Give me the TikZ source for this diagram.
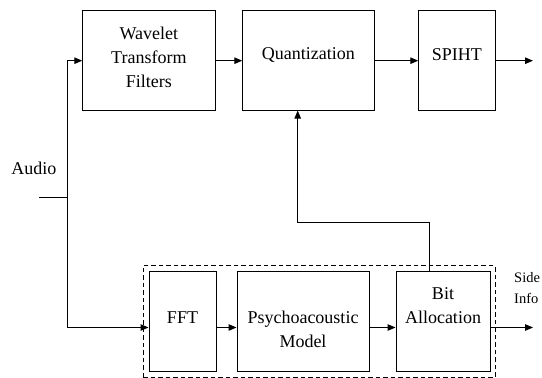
\documentclass[tikz,border=0pt]{standalone}
\usepackage{fontspec}
\setmainfont{Liberation Serif}
\usetikzlibrary{arrows.meta}

\begin{document}
\begin{tikzpicture}[x=1pt,y=-1pt,
  blk/.style={draw,line width=1pt,rectangle,inner sep=0pt,anchor=center},
  txt/.style={align=center,inner sep=0pt,font=\fontsize{18}{24}\selectfont},
  arr/.style={line width=1pt,-{Triangle[length=8pt,width=6.5pt]}},
  wire/.style={line width=1pt},
  grp/.style={draw,line width=1pt,dash pattern=on 4.5pt off 3pt}]
  \useasboundingbox (0,0) rectangle (542,378);

  % upper chain
  \node[blk,minimum width=132.3pt,minimum height=99.3pt] (wav) at (148.9,60.4) {};
  \node[blk,minimum width=131.3pt,minimum height=99.3pt] (quant) at (308.4,60.4) {};
  \node[blk,minimum width=76.3pt,minimum height=99.3pt] (spiht) at (456.9,60.4) {};
  \node[txt] (wavt) at (148.9,57) {Wavelet\\Transform\\Filters};
  \node[txt] (quantt) at (308.4,55) {Quantization};
  \node[txt] (spihtt) at (456.9,55) {SPIHT};

  % psychoacoustic side chain
  \node[grp,rectangle,inner sep=0pt,minimum width=352pt,minimum height=111.3pt] (group) at (319,321.4) {};
  \node[blk,minimum width=67pt,minimum height=99.3pt] (fft) at (182.5,321.4) {};
  \node[blk,minimum width=132pt,minimum height=99.3pt] (psy) at (303,321.4) {};
  \node[blk,minimum width=94pt,minimum height=99.3pt] (bit) at (443,321.4) {};
  \node[txt] (fftt) at (182.5,318) {FFT};
  \node[txt] (psyt) at (303,329.5) {Psychoacoustic\\Model};
  \node[txt] (bitt) at (443,306) {Bit\\Allocation};

  % labels
  \node[txt] (audio) at (34,168) {Audio};
  \node[align=left,inner sep=0pt,anchor=west,font=\fontsize{14.5}{21}\selectfont] (side) at (514,288) {Side\\Info};

  % signal rows
  \coordinate (rowA) at (0,60.7);
  \coordinate (rowB) at (0,327.5);
  \coordinate (ain) at (39,197);
  \coordinate (split) at (67,197);
  \coordinate (outA) at (533,60.7);
  \coordinate (outB) at (533,327.5);
  \coordinate (fbR) at (429.3,222.7);
  \coordinate (fbL) at (297.7,222.7);

  \draw[wire] (ain) -- (split);
  \draw[arr] (split) |- (wav.west |- rowA);
  \draw[arr] (split) |- (fft.west |- rowB);
  \draw[arr] (wav.east |- rowA) -- (quant.west |- rowA);
  \draw[arr] (quant.east |- rowA) -- (spiht.west |- rowA);
  \draw[arr] (spiht.east |- rowA) -- (outA);
  \draw[arr] (fft.east |- rowB) -- (psy.west |- rowB);
  \draw[arr] (psy.east |- rowB) -- (bit.west |- rowB);
  \draw[arr] (bit.east |- rowB) -- (outB);
  \draw[arr] (bit.north -| fbR) -- (fbR) -- (fbL) -- (quant.south -| fbL);
\end{tikzpicture}
\end{document}
